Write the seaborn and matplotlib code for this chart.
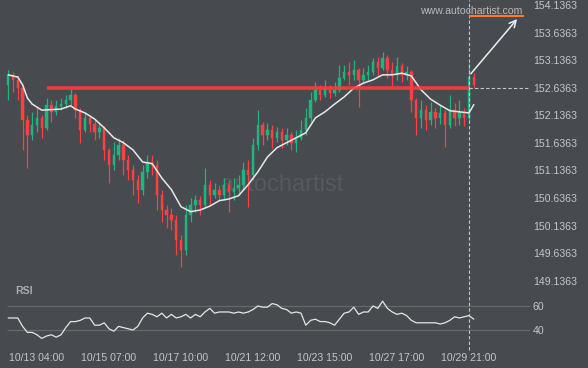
import numpy as np
import pandas as pd
import seaborn as sns
import matplotlib.pyplot as plt

# hourly candles (price)
first_open = 152.69
closes = [152.87, 152.78, 152.63, 152.05, 151.78, 151.96, 152.09, 151.91, 152.32, 152.20,
          152.31, 152.34, 152.42, 152.51, 152.23, 151.87, 152.09, 151.98, 151.84, 151.91,
          151.51, 151.24, 151.42, 151.60, 151.33, 151.15, 150.97, 150.79, 151.11, 151.29,
          151.24, 150.69, 150.42, 150.33, 150.24, 149.88, 149.70, 150.33, 150.51, 150.60,
          150.51, 150.88, 150.69, 150.79, 150.69, 150.88, 150.75, 150.82, 150.88, 151.15,
          151.06, 151.60, 151.96, 151.78, 151.87, 151.73, 151.84, 151.69, 151.78, 151.64,
          151.73, 151.87, 152.09, 152.42, 152.60, 152.51, 152.63, 152.54, 152.60, 152.81,
          152.92, 152.87, 152.96, 152.78, 152.87, 152.92, 153.10, 153.00, 153.18, 152.96,
          152.87, 153.03, 152.87, 152.92, 152.42, 152.09, 152.23, 152.05, 152.20, 152.09,
          152.18, 151.96, 152.23, 152.09, 152.20, 152.09, 152.83, 152.69]
highs = [152.96, 152.92, 152.87, 152.69, 152.14, 152.20, 152.27, 152.14, 152.45, 152.42,
         152.42, 152.45, 152.51, 152.61, 152.54, 152.27, 152.20, 152.14, 152.05, 152.02,
         151.94, 151.55, 151.65, 151.73, 151.69, 151.42, 151.24, 151.06, 151.24, 151.42,
         151.42, 151.33, 150.79, 150.51, 150.46, 150.33, 149.97, 150.51, 150.64, 150.69,
         150.68, 151.18, 150.97, 150.91, 150.88, 151.00, 150.97, 151.00, 151.06, 151.29,
         151.33, 151.73, 152.23, 152.02, 152.00, 151.96, 151.93, 151.91, 151.91, 151.84,
         151.87, 152.05, 152.27, 152.56, 152.74, 152.69, 152.78, 152.69, 152.74, 153.05,
         153.05, 153.10, 153.14, 153.00, 153.00, 153.05, 153.18, 153.19, 153.28, 153.23,
         153.10, 153.19, 153.09, 153.03, 152.96, 152.45, 152.42, 152.32, 152.38, 152.27,
         152.32, 152.23, 152.51, 152.36, 152.42, 152.27, 153.09, 152.90]
lows = [152.42, 152.56, 152.42, 151.51, 151.18, 151.69, 151.84, 151.73, 151.87, 152.02,
        152.14, 152.23, 152.27, 152.32, 152.09, 151.64, 151.84, 151.84, 151.69, 151.73,
        151.33, 150.91, 151.15, 151.33, 151.06, 150.97, 150.69, 150.55, 150.69, 151.00,
        151.06, 150.42, 150.21, 150.10, 150.06, 149.61, 149.39, 149.61, 150.21, 150.39,
        150.33, 150.46, 150.51, 150.64, 150.60, 150.60, 150.39, 150.60, 150.69, 150.79,
        150.48, 150.97, 151.51, 151.60, 151.69, 151.55, 151.65, 151.55, 151.60, 151.51,
        151.47, 151.69, 151.78, 152.02, 152.38, 152.42, 152.47, 152.45, 152.49, 152.56,
        152.78, 152.69, 152.78, 152.29, 152.74, 152.78, 152.87, 152.83, 152.96, 152.81,
        152.63, 152.78, 152.74, 152.78, 152.20, 151.78, 151.91, 151.87, 151.96, 151.91,
        151.98, 151.56, 151.91, 151.94, 151.96, 151.94, 152.05, 152.63]

# moving average (white line), read at every other candle
ma_idx = [0, 2, 3, 4, 5, 7, 11, 13, 14, 16, 18, 20, 22, 24, 26, 28, 30, 32, 34, 36, 38, 40,
          42, 44, 46, 48, 50, 52, 54, 56, 58, 60, 62, 64, 66, 68, 70, 72, 74, 76, 78, 80,
          82, 84, 86, 88, 90, 92, 94, 96, 97]
ma_vals = [152.87, 152.83, 152.69, 152.45, 152.34, 152.23, 152.25, 152.31, 152.25, 152.18,
           152.07, 151.91, 151.73, 151.64, 151.51, 151.29, 151.26, 151.00, 150.79, 150.48,
           150.39, 150.42, 150.49, 150.59, 150.62, 150.68, 150.88, 151.11, 151.38, 151.55,
           151.64, 151.73, 151.82, 152.09, 152.20, 152.34, 152.47, 152.63, 152.72, 152.78,
           152.87, 152.87, 152.90, 152.85, 152.60, 152.43, 152.32, 152.22, 152.20, 152.18,
           152.33]

rsi_vals = [50, 50, 50, 43, 38, 38, 36, 33, 35, 36, 34, 36, 42, 47, 47, 48, 50, 50, 44, 44,
            46, 41, 39, 43, 42, 41, 40, 43, 50, 54, 53, 51, 54, 50, 53, 50, 51, 53, 50, 53,
            51, 55, 58, 54, 55, 55, 55, 54, 55, 54, 55, 57, 60, 59, 59, 62, 61, 58, 57, 54,
            55, 54, 44, 48, 49, 47, 47, 46, 44, 49, 54, 55, 59, 53, 55, 55, 60, 58, 64, 58,
            55, 53, 54, 52, 48, 46, 46, 46, 46, 46, 45, 46, 48, 51, 50, 51, 52, 49]

tick_idx = [6, 21, 36, 51, 66, 81, 96]
tick_labels = ['10/13 04:00', '10/15 07:00', '10/17 10:00', '10/21 12:00',
               '10/23 15:00', '10/27 17:00', '10/29 21:00']
price_ticks = [149.1363, 149.6363, 150.1363, 150.6363, 151.1363, 151.6363,
               152.1363, 152.6363, 153.1363, 153.6363, 154.1363]

level = 152.6363
level_start = 8
signal_idx = 96
target = 153.94
arrow_start = 152.85
arrow_end_idx = 106.4
target_end_idx = 107.4

bg = '#474a4f'
green = '#1fb57f'
red = '#ff4040'
label_col = '#c4c6c9'

sns.set_style('dark', {'axes.facecolor': bg, 'figure.facecolor': bg})
plt.rcParams['font.family'] = ['Liberation Sans', 'DejaVu Sans']

fig = plt.figure(figsize=(5.88, 3.68), dpi=100)
ax = fig.add_axes([0, 1 - 290 / 368, 530 / 588, 290 / 368])
ax_rsi = fig.add_axes([0, 23 / 368, 530 / 588, 55 / 368], sharex=ax)

df = pd.DataFrame({'i': np.arange(len(closes)), 'open': [first_open] + closes[:-1],
                   'close': closes, 'high': highs, 'low': lows})
cols = np.where(df['close'] >= df['open'], green, red)

# watermark behind everything
ax.text(282 / 588, 1 - 185 / 368, 'autochartist', transform=fig.transFigure,
        ha='center', va='center', fontsize=17, color='#56595e', zorder=0)

ax.vlines(df['i'], df['low'], df['high'], colors=cols, lw=0.9, zorder=2)
ax.bar(df['i'], df['close'] - df['open'], bottom=df['open'], width=0.5,
       color=cols, edgecolor=cols, linewidth=0.3, zorder=2)
sns.lineplot(x=ma_idx, y=ma_vals, ax=ax, color='#e8e8e8', lw=1.1, zorder=3)

ax.hlines(level, level_start, signal_idx, colors='#ff3b3b', lw=2.6, alpha=0.9, zorder=4)
ax.hlines(level, signal_idx, 109, colors='#c8c8c8', linestyles=(0, (3, 2)), lw=0.8)
ax.axvline(signal_idx, color='#c8c8c8', ls=(0, (3, 2)), lw=0.8)
ax.hlines(target, signal_idx, target_end_idx, colors='#ff7a2e', lw=1.5, zorder=4)
ax.annotate('', xy=(arrow_end_idx, target - 0.02), xytext=(signal_idx, arrow_start),
            arrowprops=dict(arrowstyle='->', color='#eeeeee', lw=1.1, mutation_scale=12))

ax.set_xlim(-1.708, 108.71)
ax.set_ylim(148.97, 154.227)
ax.yaxis.tick_right()
ax.set_yticks(price_ticks, [f'{p:.4f}' for p in price_ticks])
ax.tick_params(axis='y', length=0, pad=2, labelsize=7.6, labelcolor=label_col)
ax.tick_params(axis='x', labelbottom=False, length=0)
ax.set_xlabel('')
ax.set_ylabel('')
ax.grid(False)

# RSI panel
ax_rsi.hlines([40, 60], -0.25, 108.71, colors='#65686d', lw=0.9)
sns.lineplot(x=df['i'], y=rsi_vals, ax=ax_rsi, color='#e6e6e6', lw=0.9)
ax_rsi.axvline(signal_idx, ymin=-0.09, ymax=1, color='#c8c8c8', ls=(0, (3, 2)),
               lw=0.8, clip_on=False)
ax_rsi.set_ylim(27.5, 73.3)
ax_rsi.yaxis.tick_right()
ax_rsi.set_yticks([40, 60])
ax_rsi.set_xticks(tick_idx, tick_labels)
ax_rsi.tick_params(axis='both', length=0, labelsize=7.6, labelcolor=label_col)
ax_rsi.tick_params(axis='y', pad=2)
ax_rsi.tick_params(axis='x', pad=6)
ax_rsi.set_xlabel('')
ax_rsi.set_ylabel('')
ax_rsi.grid(False)

for a in (ax, ax_rsi):
    for s in a.spines.values():
        s.set_visible(False)

fig.text(15 / 588, 1 - 291 / 368, 'RSI', fontsize=7.6, fontweight='bold',
         color='#a9acb0', va='center')
fig.text(522 / 588, 1 - 11 / 368, 'www.autochartist.com', ha='right', va='center',
         fontsize=7.6, color='#b8babd')

fig.savefig('out.png', dpi=100, facecolor=bg)
